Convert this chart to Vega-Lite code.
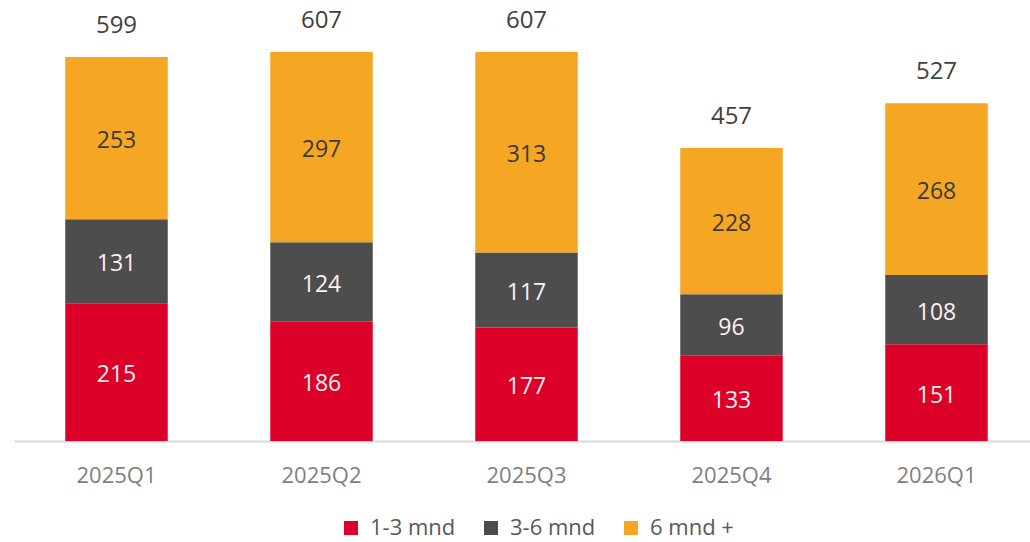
{
  "$schema": "https://vega.github.io/schema/vega-lite/v6.json",
  "width": 1025,
  "height": 441,
  "padding": {"left": 14, "top": 0, "right": 0, "bottom": 0},
  "background": "white",
  "config": {
    "view": {"stroke": null},
    "font": "Open Sans"
  },
  "datasets": {
    "seg": [
      {"q": "2025Q1", "cat": "1-3 mnd", "o": 1, "v": 215},
      {"q": "2025Q1", "cat": "3-6 mnd", "o": 2, "v": 131},
      {"q": "2025Q1", "cat": "6 mnd +", "o": 3, "v": 253},
      {"q": "2025Q2", "cat": "1-3 mnd", "o": 1, "v": 186},
      {"q": "2025Q2", "cat": "3-6 mnd", "o": 2, "v": 124},
      {"q": "2025Q2", "cat": "6 mnd +", "o": 3, "v": 297},
      {"q": "2025Q3", "cat": "1-3 mnd", "o": 1, "v": 177},
      {"q": "2025Q3", "cat": "3-6 mnd", "o": 2, "v": 117},
      {"q": "2025Q3", "cat": "6 mnd +", "o": 3, "v": 313},
      {"q": "2025Q4", "cat": "1-3 mnd", "o": 1, "v": 133},
      {"q": "2025Q4", "cat": "3-6 mnd", "o": 2, "v": 96},
      {"q": "2025Q4", "cat": "6 mnd +", "o": 3, "v": 228},
      {"q": "2026Q1", "cat": "1-3 mnd", "o": 1, "v": 151},
      {"q": "2026Q1", "cat": "3-6 mnd", "o": 2, "v": 108},
      {"q": "2026Q1", "cat": "6 mnd +", "o": 3, "v": 268}
    ],
    "tot": [
      {"q": "2025Q1", "total": 599},
      {"q": "2025Q2", "total": 607},
      {"q": "2025Q3", "total": 607},
      {"q": "2025Q4", "total": 457},
      {"q": "2026Q1", "total": 527}
    ]
  },
  "encoding": {
    "x": {
      "field": "q",
      "type": "nominal",
      "sort": null,
      "scale": {"paddingInner": 0.5, "paddingOuter": 0.25},
      "axis": {
        "title": null,
        "labelAngle": 0,
        "labelFontSize": 22,
        "labelColor": "#7f7f7f",
        "labelPadding": 24,
        "ticks": false,
        "domainColor": "#d9d9d9",
        "domainWidth": 2
      }
    }
  },
  "layer": [
    {
      "data": {"name": "seg"},
      "mark": {"type": "bar"},
      "encoding": {
        "y": {
          "field": "v",
          "type": "quantitative",
          "stack": "zero",
          "scale": {"domain": [0, 688], "nice": false},
          "axis": null
        },
        "order": {"field": "o", "type": "quantitative"},
        "color": {
          "field": "cat",
          "type": "nominal",
          "scale": {
            "domain": ["1-3 mnd", "3-6 mnd", "6 mnd +"],
            "range": ["#dc0028", "#4d4d4d", "#f5a623"]
          },
          "legend": {
            "title": null,
            "orient": "none",
            "legendX": 326,
            "legendY": 517,
            "padding": 0,
            "direction": "horizontal",
            "symbolType": "square",
            "symbolSize": 196,
            "symbolStrokeWidth": 0,
            "labelFontSize": 22,
            "labelColor": "#595959",
            "labelOffset": 8,
            "columnPadding": 24
          }
        }
      }
    },
    {
      "data": {"name": "seg"},
      "mark": {"type": "text", "fontSize": 23, "baseline": "middle", "dy": 3},
      "encoding": {
        "y": {"field": "v", "type": "quantitative", "stack": "zero", "bandPosition": 0.5},
        "order": {"field": "o", "type": "quantitative"},
        "text": {"field": "v", "type": "quantitative"},
        "color": {
          "condition": {"test": "datum.cat === '6 mnd +'", "value": "#3a3a3a"},
          "value": "#fdf0f2"
        }
      }
    },
    {
      "data": {"name": "tot"},
      "mark": {"type": "text", "fontSize": 24, "baseline": "bottom", "dy": -19, "color": "#404040"},
      "encoding": {
        "y": {"field": "total", "type": "quantitative"},
        "text": {"field": "total", "type": "quantitative"}
      }
    }
  ]
}
